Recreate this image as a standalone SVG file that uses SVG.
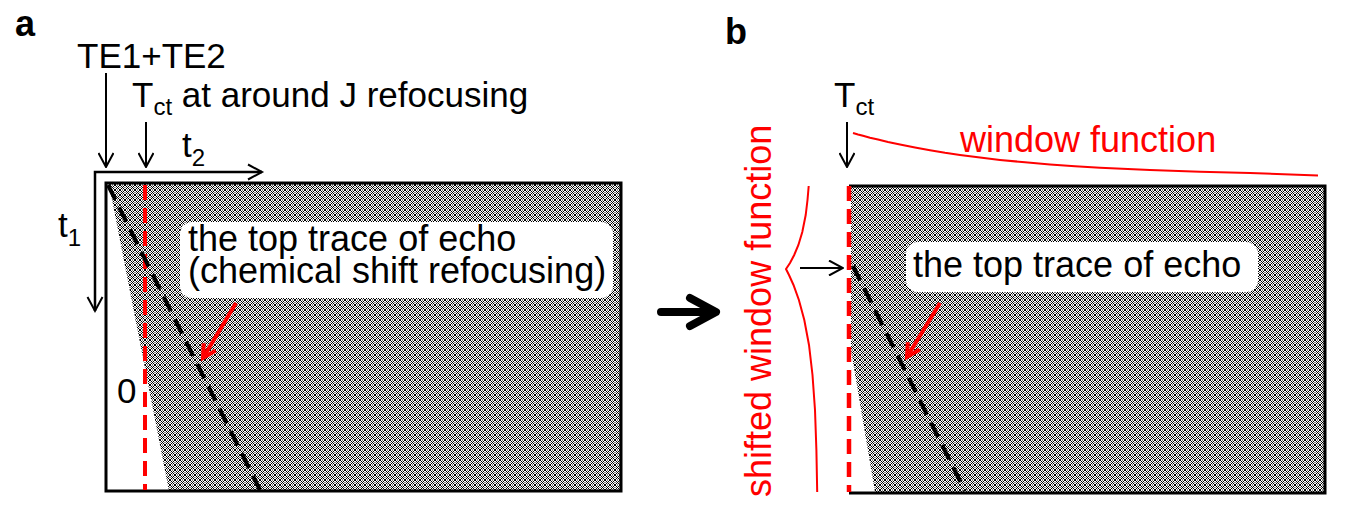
<svg xmlns="http://www.w3.org/2000/svg" width="1346" height="518" viewBox="0 0 1346 518">
<style>
text{font-family:"Liberation Sans",Arial,sans-serif;fill:#000}
.lbl{font-size:35px}
.big{font-size:36px}
.sub{font-size:24px}
.red{fill:#ff0000}
.panel{font-size:36px;font-weight:bold}
.ax{stroke:#000;stroke-width:2.5;fill:none}
.arr{stroke:#000;stroke-width:2;fill:none;marker-end:url(#ah)}
.rarr{stroke:#ff0000;stroke-width:4;fill:none;marker-end:url(#rh)}
.rdash{stroke:#ff0000;stroke-width:4;stroke-dasharray:15 8;fill:none}
.kdash{stroke:#000;stroke-width:4;stroke-dasharray:16 9;fill:none}
.border{stroke:#000;stroke-width:3;fill:none}
.box{fill:#fff;stroke:none}
.curve{stroke:#ff0000;stroke-width:2;fill:none}
</style>
<defs>
<pattern id="dots" x="0" y="0" width="5" height="5" patternUnits="userSpaceOnUse">
<rect width="5" height="5" fill="#fff"/>
<path shape-rendering="crispEdges" fill="#000" d="M0,0h1v1h-1zM1,1h1v1h-1zM2,2h1v1h-1zM3,3h1v1h-1zM4,4h1v1h-1zM4,0h1v1h-1zM3,1h1v1h-1zM1,3h1v1h-1zM0,4h1v1h-1z"/>
<path shape-rendering="crispEdges" fill="#808080" d="M2,0h1v1h-1zM0,2h1v1h-1zM4,2h1v1h-1zM2,4h1v1h-1z"/>
</pattern>
<marker id="ah" viewBox="0 0 16 16" refX="15" refY="8" markerWidth="16" markerHeight="16" markerUnits="userSpaceOnUse" orient="auto">
<path d="M1,0.5L15,8L1,15.5" fill="none" stroke="#000" stroke-width="2"/>
</marker>
<marker id="rh" viewBox="0 0 20 20" refX="16" refY="10" markerWidth="20" markerHeight="20" markerUnits="userSpaceOnUse" orient="auto">
<path d="M3,3L16,10L3,17" fill="none" stroke="#ff0000" stroke-width="4"/>
</marker>
</defs>
<rect width="1346" height="518" fill="#fff"/>

<g id="panel-a">
<text class="panel" x="15" y="36">a</text>
<rect x="106" y="184" width="515" height="307" fill="url(#dots)"/>
<polygon points="106,184 109,184 169,491 106,491" fill="#fff"/>
<rect class="border" x="106" y="183" width="515" height="308"/>
<line class="rdash" x1="145" y1="185" x2="145" y2="490"/>
<line class="kdash" x1="108" y1="185" x2="260" y2="490"/>
<text class="lbl" x="117" y="403">0</text>
<g id="label-a">
<rect class="box" x="180" y="222" width="433" height="76" rx="12"/>
<text class="big" x="188" y="251">the top trace of echo</text>
<text class="big" x="188" y="283">(chemical shift refocusing)</text>
</g>
<text class="lbl" x="77" y="68">TE1+TE2</text>
<text class="lbl" x="132" y="107">T<tspan class="sub" dy="8">ct</tspan><tspan dy="-8"> at around J refocusing</tspan></text>
<text class="lbl" x="182" y="157">t<tspan class="sub" dy="9">2</tspan></text>
<text class="lbl" x="58" y="237">t<tspan class="sub" dy="9">1</tspan></text>
</g>

<g id="panel-b">
<text class="panel" x="725" y="44">b</text>
<rect x="851" y="187" width="474" height="305" fill="url(#dots)"/>
<polygon points="851,350 875,492 851,492" fill="#fff"/>
<path class="border" d="M849,186H1325V493H849"/>
<line class="rdash" x1="849" y1="186" x2="849" y2="492" style="stroke-width:4.5"/>
<line class="kdash" x1="853" y1="266" x2="965" y2="491"/>
<g id="label-b">
<rect class="box" x="906" y="242" width="352" height="50" rx="12"/>
<text class="big" x="913" y="277">the top trace of echo</text>
</g>
<text class="lbl" x="834" y="107">T<tspan class="sub" dy="8">ct</tspan></text>
<g id="window-function">
<polyline class="curve" points="853,133 858,134.5 863,135.8 870,137.8 878,139.6 888,142 900,144.6 915,147.6 930,150.3 945,152.8 960,154.9 980,157.6 1000,159.9 1025,162.3 1050,164.4 1075,166.2 1100,167.7 1150,170.1 1200,171.7 1250,172.9 1318,175.5"/>
<text class="big red" x="960" y="152">window function</text>
</g>
<g id="shifted-window-function">
<polyline class="curve" points="808.7,186 807.5,200 805.7,215 802.3,232 798.4,245 794.2,255 790,263 786,269 789,275 793.5,285 798.9,300 804.3,320 809,345 812.5,375 815,410 816.4,450 817.2,492"/>
<text class="big red" transform="translate(771,497) rotate(-90)">shifted window function</text>
</g>
</g>

<g id="connectors">
<line class="arr" x1="106" y1="73" x2="106" y2="167"/>
<line class="arr" x1="146" y1="122" x2="146" y2="167"/>
<path class="ax" d="M95,311V172H262"/>
<path d="M248,164.5L262,172L248,179.5" class="ax" style="stroke-width:2"/>
<path d="M87.5,297L95,311L102.5,297" class="ax" style="stroke-width:2"/>
<line class="rarr" x1="236" y1="303" x2="203" y2="358"/>
<path d="M661,312H714M690,298L716,312L690,326" stroke="#000" stroke-width="8" fill="none" stroke-linecap="round" stroke-linejoin="round"/>
<line class="arr" x1="847" y1="122" x2="847" y2="167"/>
<line class="arr" x1="800" y1="268" x2="843" y2="268"/>
<line class="rarr" x1="940" y1="303" x2="907" y2="357"/>
</g>
</svg>
